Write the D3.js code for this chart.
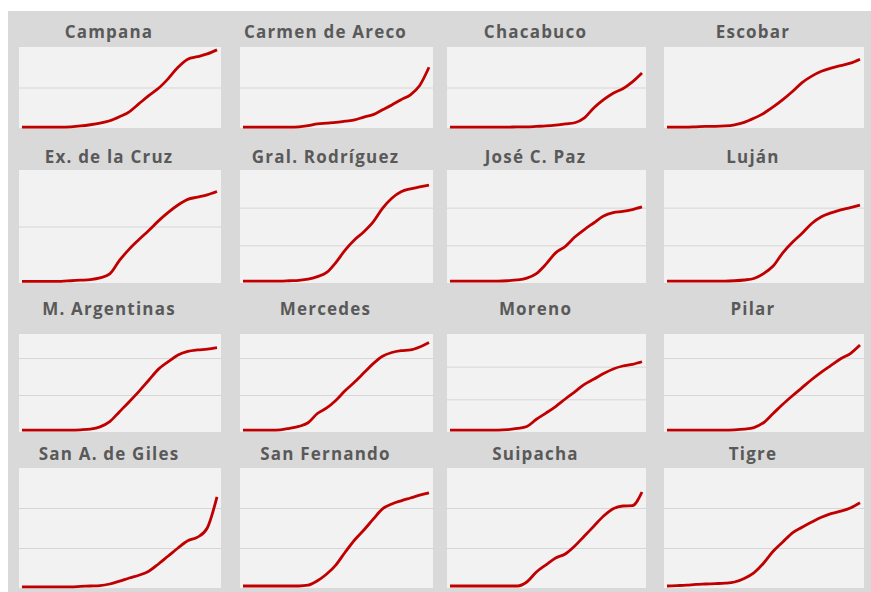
<!DOCTYPE html>
<html>
<head>
<meta charset="utf-8">
<script src="https://cdn.jsdelivr.net/npm/d3@7"></script>
<style>
body{margin:0;background:#fff;}
</style>
</head>
<body>
<svg id="svg" width="871" height="592"></svg>
<script>
// municipality names, in panel order
var names=["Campana","Carmen de Areco","Chacabuco","Escobar",
  "Ex. de la Cruz","Gral. Rodríguez","José C. Paz","Luján",
  "M. Argentinas","Mercedes","Moreno","Pilar",
  "San A. de Giles","San Fernando","Suipacha","Tigre"]

// y-axis top per panel (in gridline units)
var yMax=[2,2,2,1, 2,3,3,3, 2.65,2.65,3,2.65, 3,3,3,3]

// series, in gridline units (one value per period)
var campana=[0.02,0.02,0.02,0.02,0.02,0.03,0.05,0.08,0.12,0.18,0.28,0.4,0.6,0.8,0.98,1.22,1.5,1.7,1.76,1.83,1.93]
var carmenDeAreco=[0.02,0.02,0.02,0.02,0.02,0.02,0.03,0.06,0.1,0.12,0.14,0.17,0.2,0.27,0.33,0.45,0.57,0.7,0.82,1.05,1.5]
var chacabuco=[0.02,0.02,0.02,0.02,0.02,0.02,0.02,0.03,0.03,0.04,0.05,0.07,0.1,0.13,0.25,0.5,0.7,0.86,0.97,1.14,1.36]
var escobar=[0.01,0.01,0.01,0.015,0.02,0.02,0.025,0.04,0.07,0.12,0.18,0.26,0.35,0.45,0.56,0.64,0.7,0.74,0.77,0.8,0.85]
var exDeLaCruz=[0.03,0.03,0.03,0.03,0.03,0.04,0.05,0.06,0.09,0.16,0.4,0.6,0.77,0.93,1.1,1.25,1.38,1.48,1.52,1.56,1.62]
var gralRodriguez=[0.05,0.05,0.05,0.05,0.05,0.06,0.07,0.1,0.17,0.28,0.55,0.88,1.15,1.36,1.62,1.98,2.25,2.42,2.5,2.55,2.6]
var joseCPaz=[0.05,0.05,0.05,0.05,0.05,0.05,0.06,0.08,0.13,0.25,0.5,0.8,0.97,1.22,1.42,1.6,1.78,1.87,1.9,1.95,2.02]
var lujan=[0.05,0.05,0.05,0.05,0.05,0.05,0.05,0.06,0.08,0.12,0.25,0.45,0.8,1.08,1.32,1.58,1.76,1.86,1.94,2.0,2.07]
var mArgentinas=[0.05,0.05,0.05,0.05,0.05,0.05,0.06,0.08,0.14,0.28,0.55,0.82,1.1,1.4,1.7,1.9,2.08,2.18,2.22,2.24,2.28]
var mercedes=[0.05,0.05,0.05,0.05,0.06,0.1,0.15,0.25,0.5,0.65,0.86,1.12,1.35,1.6,1.85,2.05,2.15,2.2,2.22,2.3,2.42]
var moreno=[0.06,0.06,0.06,0.06,0.06,0.06,0.07,0.11,0.17,0.39,0.58,0.78,1.01,1.23,1.46,1.62,1.79,1.93,2.02,2.07,2.15]
var pilar=[0.05,0.05,0.05,0.05,0.05,0.05,0.05,0.06,0.08,0.12,0.25,0.5,0.75,0.98,1.2,1.42,1.62,1.8,1.98,2.12,2.35]
var sanAGiles=[0.03,0.03,0.03,0.03,0.03,0.03,0.04,0.05,0.06,0.1,0.17,0.25,0.32,0.42,0.6,0.8,1.0,1.18,1.27,1.5,2.28]
var sanFernando=[0.05,0.05,0.05,0.05,0.05,0.05,0.05,0.07,0.18,0.35,0.58,0.9,1.2,1.45,1.72,1.98,2.1,2.18,2.25,2.32,2.38]
var suipacha=[0.05,0.05,0.05,0.05,0.05,0.05,0.05,0.05,0.15,0.4,0.58,0.75,0.85,1.05,1.3,1.55,1.8,1.98,2.05,2.06,2.4]
var tigre=[0.05,0.06,0.07,0.09,0.1,0.11,0.12,0.15,0.24,0.38,0.62,0.92,1.15,1.38,1.52,1.65,1.77,1.86,1.92,2.0,2.13]

var series=[campana,carmenDeAreco,chacabuco,escobar,exDeLaCruz,gralRodriguez,joseCPaz,lujan,
  mArgentinas,mercedes,moreno,pilar,sanAGiles,sanFernando,suipacha,tigre]

// layout of the 4x4 grid (plot areas)
var colX=[[19,221],[240,433],[447,646],[664,864]]
var rowY=[[47,128],[170,283],[334,432],[468,588]]
var titleY=[38,163,315,460]

var svg=d3.select("#svg")

svg.append("rect")
    .attr("x",8).attr("y",11)
    .attr("width",863).attr("height",581)
    .style("fill","#d9d9d9")

names.forEach((name,k)=>{
    var c=k%4, r=Math.floor(k/4)
    var x0=colX[c][0], x1=colX[c][1], y0=rowY[r][0], y1=rowY[r][1]

    var x=d3.scaleLinear().domain([0,series[k].length-1]).range([x0+3,x1-4])
    var y=d3.scaleLinear().domain([0,yMax[k]]).range([y1,y0])

    var g=svg.append("g")

    g.append("rect")
        .attr("x",x0).attr("y",y0)
        .attr("width",x1-x0).attr("height",y1-y0)
        .style("fill","#f2f2f2")

    //gridlines
    var ticks=d3.range(1,Math.ceil(yMax[k])).filter(t=>t<yMax[k])
    var grid=g.append("g")
        .attr("transform","translate("+x0+",0)")
        .call(d3.axisLeft(y).tickValues(ticks).tickSize(-(x1-x0)).tickFormat(""))
    grid.select(".domain").remove()
    grid.selectAll("line").style("stroke","#d6d6d6").style("stroke-width",1)

    g.append("path")
        .datum(series[k])
        .attr("d",d3.line().x((d,i)=>x(i)).y(d=>y(d)).curve(d3.curveMonotoneX))
        .style("fill","none")
        .style("stroke","#c00000")
        .style("stroke-width",2.8)
        .style("stroke-linejoin","round")

    g.append("text")
        .text(name)
        .attr("x",(x0+x1)/2-11)
        .attr("y",titleY[r])
        .attr("text-anchor","middle")
        .style("font-family","'Open Sans', sans-serif")
        .style("font-weight","bold")
        .style("font-size","17px")
        .style("letter-spacing","1.2px")
        .style("fill","#595959")
})
</script>
</body>
</html>
